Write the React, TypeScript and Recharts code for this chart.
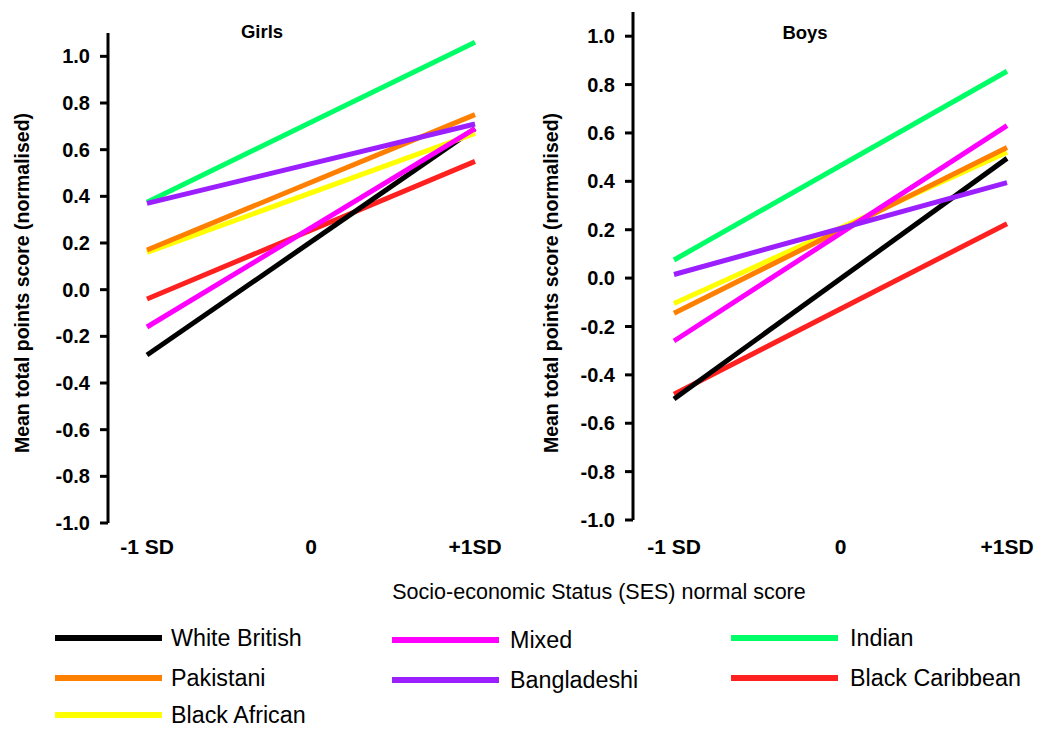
import React from 'react';
import { LineChart, Line, XAxis, YAxis } from 'recharts';

const SERIES = ['White British', 'Pakistani', 'Black African', 'Mixed', 'Bangladeshi', 'Indian', 'Black Caribbean'];
const COLORS = ['#000000', '#FF7F00', '#FFFF00', '#FF00FF', '#9B1FFF', '#00FF66', '#FF2020'];
const DRAW_ORDER = [6, 0, 2, 1, 3, 5, 4];
const LEGEND_COL = [0, 0, 0, 1, 1, 2, 2];
const LEGEND_ROW = [0, 1, 2, 0, 1, 0, 1];

const girlsLow = [-0.28, 0.17, 0.16, -0.16, 0.37, 0.375, -0.04];
const girlsHigh = [0.69, 0.75, 0.67, 0.69, 0.71, 1.06, 0.55];
const boysLow = [-0.5, -0.145, -0.105, -0.26, 0.015, 0.075, -0.48];
const boysHigh = [0.495, 0.54, 0.52, 0.63, 0.395, 0.855, 0.225];

const sesPoints = [-1, 1];
const sesTicks = [-1, 0, 1];
const sesTickLabels = ['-1 SD', '0', '+1SD'];
const yTicks = [-1, -0.8, -0.6, -0.4, -0.2, 0, 0.2, 0.4, 0.6, 0.8, 1];

const FONT = '"Liberation Sans", Arial, sans-serif';

function buildData(low: number[], high: number[]) {
  return sesPoints.map((s, i) => {
    const row: Record<string, number> = { ses: s };
    SERIES.forEach((name, j) => {
      row[name] = i === 0 ? low[j] : high[j];
    });
    return row;
  });
}

const girlsData = buildData(girlsLow, girlsHigh);
const boysData = buildData(boysLow, boysHigh);

function YTitle(props: any) {
  const { cx, cy } = props;
  return (
    <text
      x={cx}
      y={cy}
      transform={`rotate(-90, ${cx}, ${cy})`}
      textAnchor="middle"
      dominantBaseline="central"
      fontFamily={FONT}
      fontWeight="bold"
      fontSize={19.5}
      fill="#000"
    >
      Mean total points score (normalised)
    </text>
  );
}

type PanelProps = {
  data: Record<string, number>[];
  width: number;
  height: number;
  margin: { top: number; right: number; left: number; bottom: number };
  yWidth: number;
  padL: number;
  padR: number;
  titleX: number;
  tickMargin: number;
};

function Panel({ data, width, height, margin, yWidth, padL, padR, titleX, tickMargin }: PanelProps) {
  return (
    <LineChart width={width} height={height} data={data} margin={margin}>
      <XAxis
        dataKey="ses"
        type="number"
        domain={[-1, 1]}
        ticks={sesTicks}
        tickFormatter={(v: number) => sesTickLabels[sesTicks.indexOf(v)]}
        axisLine={false}
        tickLine={false}
        padding={{ left: padL, right: padR }}
        height={40}
        tickMargin={tickMargin}
        tick={{ fill: '#000', fontSize: 21, fontWeight: 'bold', fontFamily: FONT }}
        interval={0}
      />
      <YAxis
        type="number"
        domain={[-1, 1.1]}
        ticks={yTicks}
        interval={0}
        width={yWidth}
        tickFormatter={(v: number) => v.toFixed(1)}
        axisLine={{ stroke: '#000', strokeWidth: 3 }}
        tickLine={{ stroke: '#000', strokeWidth: 3 }}
        tickSize={8}
        tickMargin={10}
        tick={{ fill: '#000', fontSize: 20, fontWeight: 'bold', fontFamily: FONT }}
        label={<YTitle cx={titleX} cy={283} />}
      />
      {DRAW_ORDER.map((j) => (
        <Line
          key={SERIES[j]}
          dataKey={SERIES[j]}
          type="linear"
          stroke={COLORS[j]}
          strokeWidth={5}
          dot={false}
          activeDot={false}
          isAnimationActive={false}
        />
      ))}
    </LineChart>
  );
}

const LEGEND_COL_X = [55, 392, 731];
const LEGEND_TEXT_X = [171, 510, 850];
const LEGEND_ROW_Y = [638, 678, 715];

export default function App() {
  return (
    <div style={{ position: 'absolute', left: 0, top: 0, width: 1038, height: 729, background: '#fff', fontFamily: FONT }}>
      <div style={{ position: 'absolute', left: 0, top: 0 }}>
        <Panel
          data={girlsData}
          width={520}
          height={570}
          margin={{ top: 33, right: 20, left: 0, bottom: 7 }}
          yWidth={108}
          padL={39}
          padR={25}
          titleX={22}
          tickMargin={10}
        />
      </div>
      <div style={{ position: 'absolute', left: 520, top: 0 }}>
        <Panel
          data={boysData}
          width={518}
          height={570}
          margin={{ top: 12, right: 8, left: 0, bottom: 10 }}
          yWidth={113}
          padL={41}
          padR={23}
          titleX={31}
          tickMargin={13}
        />
      </div>
      <div style={{ position: 'absolute', left: 262, top: 32, transform: 'translate(-50%, -50%)', fontSize: 18.5, fontWeight: 'bold', whiteSpace: 'nowrap', lineHeight: 1 }}>
        Girls
      </div>
      <div style={{ position: 'absolute', left: 805, top: 33, transform: 'translate(-50%, -50%)', fontSize: 18.5, fontWeight: 'bold', whiteSpace: 'nowrap', lineHeight: 1 }}>
        Boys
      </div>
      <div style={{ position: 'absolute', left: 599, top: 593, transform: 'translate(-50%, -50%)', fontSize: 21.5, whiteSpace: 'nowrap', lineHeight: 1 }}>
        Socio-economic Status (SES) normal score
      </div>
      <svg width={1038} height={729} style={{ position: 'absolute', left: 0, top: 0, pointerEvents: 'none' }}>
        {SERIES.map((name, j) => {
          const col = LEGEND_COL[j];
          const row = LEGEND_ROW[j];
          const y = LEGEND_ROW_Y[row] + (col === 1 ? 2 : 0);
          return (
            <g key={name}>
              <line x1={LEGEND_COL_X[col]} x2={LEGEND_COL_X[col] + 107} y1={y} y2={y} stroke={COLORS[j]} strokeWidth={6} />
              <text x={LEGEND_TEXT_X[col]} y={y} dominantBaseline="central" fontFamily={FONT} fontSize={23.3} fill="#000">
                {name}
              </text>
            </g>
          );
        })}
      </svg>
    </div>
  );
}
